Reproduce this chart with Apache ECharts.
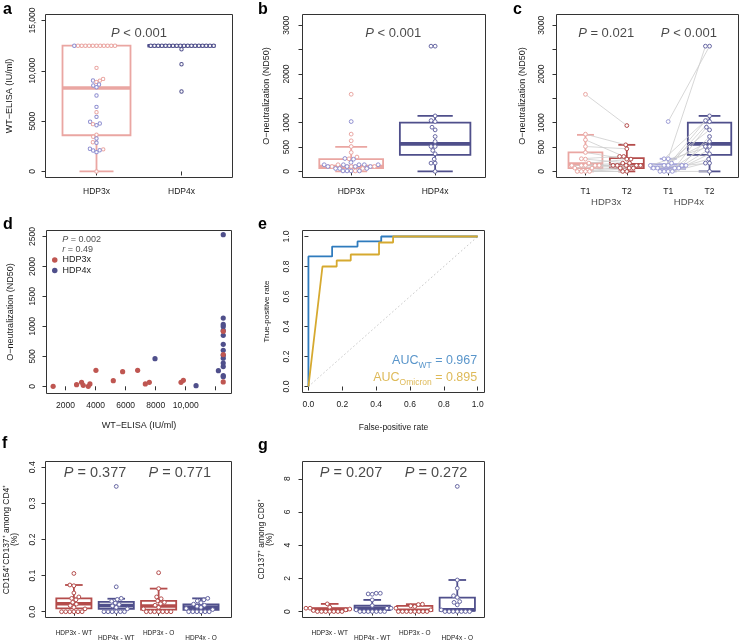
<!DOCTYPE html>
<html><head><meta charset="utf-8">
<script src="https://cdn.jsdelivr.net/npm/echarts@6/dist/echarts.min.js"></script>
<style>html,body{margin:0;padding:0;background:#fff}#c{width:741px;height:643px}</style>
</head><body><div id="c"></div>
<script>
// ---------------- DATA ----------------
// panel a : WT-ELISA (IU/ml)
const aCats = ['HDP3x', 'HDP4x'];
const aBoxHDP3x = [0, 3600, 8300, 12500, 12500];
const aBoxHDP4x = [12500, 12500, 12500, 12500, 12500];
const aHDP3x = [12500,12500,12500,12500,12500,12500,12500,12500,12500,12500,12500,12500,
  10300,9200,9040,9030,8900,8640,8550,8370, 7550,6420,5890,5430, 4940,4770,4700,4600,
  3650,3450,3280, 2910,2850,2250,2200,2110,2080,1920,0];
const aHDP3xSub = [0,0,0,0,0,0,0,0,0,0,0,1, 0,0,1,0,0,1,1,1, 1,1,0,1, 1,1,0,1, 0,0,1, 0,1,1,0,1,1,1,0];
const aHDP4x = [12500,12500,12500,12500,12500,12500,12500,12500,12500,12500,12500,12500,12500,12500,12500,12500,12500,12500,12150,10660,7950];

// panel b : O-neutralization (ND50)
const bCats = ['HDP3x', 'HDP4x'];
const bBoxHDP3x = [0, 68, 102, 252, 505];
const bBoxHDP4x = [0, 341, 566, 1002, 1139];
const bHDP3x = [1583,1023,765,628,511,389,295,265,258,250,184,
  137,137,137,137,137,137,
  100,100,100,100,100,100,100,
  60,60,60,60,
  10,10,10,10,10];
const bHDP3xSub = [0,1,0,0,0,0,0,1,0,1,1, 1,1,0,1,1,1, 0,1,1,0,1,1,0, 1,0,1,1, 1,1,0,1,1];
const bHDP4x = [2570,2570,1139,1043,1023,907,852,716,614,511,511,430,361,252,170,170,0];

// panel c : paired T1 / T2
const cCats = ['T1', 'T2', 'T1', 'T2'];
const cGroups = ['HDP3x', 'HDP4x'];
const cBoxHDP3xT1 = [0, 68, 150, 389, 750];
const cBoxHDP3xT2 = [0, 68, 136, 273, 545];
const cBoxHDP4xT1 = [0, 55, 82, 150, 259];
const cBoxHDP4xT2 = [0, 341, 566, 1002, 1139];
const cHDP3xT1 = [1582,764,648,511,389,260,252,170,123,123,123,123,123,68,68,0,0,0,0];
const cHDP3xT2 = [941,545,307,464,252,307,170,252,123,170,68,123,123,68,123,0,123,68,0];
const cHDP4xT1 = [1023,259,123,259,170,68,123,123,68,123,0,68,123,0,68,0,0];
const cHDP4xT2 = [2570,2570,1139,1043,1023,907,852,716,614,511,511,430,361,252,170,170,0];

// panel d : WT-ELISA vs O-neutralization
const dX3 = [1173,2733,3067,3178,3511,3622,4022,5178,5800,6800,7311,7578,9689,9844,12500,12500,12500];
const dY3 = [0,28,67,17,0,39,267,94,244,267,39,67,67,100,917,530,73];
const dX4 = [7956,10689,12178,12500,12500,12500,12500,12500,12500,12500,12500,12500,12500,12500,12500,12500,12500];
const dY4 = [461,11,261,2530,1139,1033,1000,933,850,700,600,517,470,389,330,178,160];

// panel e : ROC
const eWtFpr = [0, 0, 0.14, 0.14, 0.29, 0.29, 0.43, 0.43, 1];
const eWtTpr = [0, 0.867, 0.867, 0.933, 0.933, 0.967, 0.967, 1, 1];
const eOmFpr = [0, 0.083, 0.167, 0.167, 0.25, 0.25, 0.417, 0.417, 0.5, 0.5, 1];
const eOmTpr = [0, 0.8, 0.8, 0.84, 0.84, 0.88, 0.88, 0.96, 0.96, 1, 1];

// panel f : CD154+CD137+ among CD4+ (%)
const fgCats = ['HDP3x - WT', 'HDP4x - WT', 'HDP3x - O', 'HDP4x - O'];
const fBox = [[0,0.009,0.022,0.037,0.074],[0,0.008,0.017,0.027,0.036],[0,0.006,0.016,0.030,0.064],[0,0.005,0.012,0.020,0.037]];
const fHDP3xWT = [0.106,0.074,0.072,0.052,0.041,0.037,0.033,0.026,0.021,0.017,0.012,0.008,0,0,0,0,0,0];
const fHDP4xWT = [0.347,0.069,0.037,0.034,0.029,0.024,0.020,0.016,0.012,0.008,0,0,0,0,0,0];
const fHDP3xO = [0.108,0.064,0.041,0.036,0.030,0.026,0.022,0.018,0.012,0.008,0,0,0,0,0,0,0];
const fHDP4xO = [0.037,0.033,0.030,0.025,0.021,0.018,0.015,0.012,0.009,0.006,0,0,0,0,0,0];

// panel g : CD137+ among CD8+ (%)
const gBox = [[0,0.04,0.12,0.2,0.46],[0,0.08,0.2,0.36,0.7],[0,0.04,0.08,0.34,0.44],[0,0.05,0.1,0.84,1.9]];
const gHDP3xWT = [0.46,0.26,0.2,0.2,0.15,0.1,0.06,0,0,0,0,0,0,0];
const gHDP4xWT = [1.1,1.1,1.06,1.04,0.7,0.36,0.2,0.2,0.1,0,0,0,0,0,0,0];
const gHDP3xO = [0.44,0.42,0.34,0.3,0.2,0.1,0,0,0,0,0,0,0,0];
const gHDP4xO = [7.54,1.9,1.4,0.95,0.85,0.6,0.55,0.4,0.1,0,0,0,0,0,0,0];

// P-value annotations
const pA = ['< 0.001'];
const pB = ['< 0.001'];
const pC = ['= 0.021', '< 0.001'];
const pF = ['= 0.377', '= 0.771'];
const pG = ['= 0.207', '= 0.272'];
const dStats = ['= 0.002', '= 0.49'];
const aucWT = '0.967', aucOm = '0.895';

// ---------------- STYLE / LAYOUT ----------------
const FONT = '"Liberation Sans", Arial, Helvetica, sans-serif';
const C = {pink:'#eaa6a2', lav:'#a6a6da', pur:'#4f4f8b', pur2:'#6767a3', red:'#b44c4b', dred:'#bf5651',
  blue:'#2f7bbd', gold:'#d6a92f', ax:'#333', txt:'#1a1a1a'};
const P = {
  a:{left:45.5, top:14.5, width:187, height:163, x:[0.4,2.6], y:[-600,15600], ym:8},
  b:{left:302.5, top:14.5, width:183, height:163, x:[0.42,2.6], y:[-125,3220], ym:11},
  c:{left:556.5, top:14.5, width:182, height:163, x:[0.3,4.7], y:[-125,3220], ym:10},
  d:{left:46.5, top:230.5, width:185, height:163, x:[730,13050], y:[-120,2600], ym:9},
  e:{left:302.5, top:230.5, width:182, height:162, x:[-0.035,1.04], y:[-0.04,1.04], ym:11},
  f:{left:45.5, top:461.5, width:186, height:156, x:[0.33,4.72], y:[-0.016,0.416], ym:8},
  g:{left:302.5, top:461.5, width:182, height:156, x:[0.36,4.64], y:[-0.36,9.04], ym:10}
};

// beeswarm layout (pixel space) -> x offsets in data units
function swarm(vals, p, d) {
  const sx = p.width / (p.x[1] - p.x[0]), sy = p.height / (p.y[1] - p.y[0]);
  const idx = vals.map((v, i) => i).sort((a, b) => vals[a] - vals[b]);
  const placed = [], off = new Array(vals.length);
  for (const i of idx) {
    const y = vals[i] * sy;
    const near = placed.filter(q => Math.abs(q.y - y) < d);
    const cands = [0];
    near.forEach(q => { const dx = Math.sqrt(d * d - (q.y - y) * (q.y - y)); cands.push(q.x + dx, q.x - dx); });
    cands.sort((u, v) => Math.abs(u) - Math.abs(v) || u - v);
    let x = 0;
    for (const cnd of cands) {
      if (near.every(q => (q.x - cnd) * (q.x - cnd) + (q.y - y) * (q.y - y) >= d * d - 0.01)) { x = cnd; break; }
    }
    placed.push({x, y}); off[i] = x / sx;
  }
  return off;
}

const grids = [], xAxes = [], yAxes = [], series = [];
function panel(key, xt, xl, xf, yt, yl, yf, extra) {
  const p = P[key], gi = grids.length;
  extra = extra || {};
  grids.push({left:p.left, top:p.top, width:p.width, height:p.height, show:true, borderColor:C.ax, borderWidth:1, backgroundColor:'transparent'});
  xAxes.push(Object.assign({gridIndex:gi, type:'value', min:p.x[0], max:p.x[1], axisLine:{show:false}, splitLine:{show:false},
    axisTick:{show:true, length:4, customValues:xt, lineStyle:{color:C.ax, width:1}},
    axisLabel:{customValues:xl, formatter:xf, fontSize:8.5, color:C.txt, margin:10, fontFamily:FONT, hideOverlap:false}}, extra.x || {}));
  yAxes.push(Object.assign({gridIndex:gi, type:'value', min:p.y[0], max:p.y[1], axisLine:{show:false}, splitLine:{show:false},
    axisTick:{show:true, length:4, customValues:yt, lineStyle:{color:C.ax, width:1}},
    axisLabel:{customValues:yl, formatter:yf, fontSize:8.5, color:C.txt, margin:p.ym, rotate:90, fontFamily:FONT, hideOverlap:false}}, extra.y || {}));
  return gi;
}
function yName(t, gap, fs, lh) {
  return {name:t, nameLocation:'middle', nameGap:gap, nameRotate:90, nameTextStyle:{fontSize:fs || 9, color:C.txt, fontFamily:FONT, lineHeight:lh}};
}
function xName(t, gap, fs) {
  return {name:t, nameLocation:'middle', nameGap:gap, nameTextStyle:{fontSize:fs || 9, color:C.txt, fontFamily:FONT}};
}

function boxItem(params, api) {
  const cx = api.value(0), lo = api.value(1), q1 = api.value(2), md = api.value(3), q3 = api.value(4), hi = api.value(5), w = api.value(6);
  const lw = api.value(7);
  const col = api.visual('color');
  const half = api.size([w, 0])[0] / 2;
  const pLo = api.coord([cx, lo]), pQ1 = api.coord([cx, q1]), pMd = api.coord([cx, md]), pQ3 = api.coord([cx, q3]), pHi = api.coord([cx, hi]);
  const x = pMd[0];
  const st = {stroke:col, lineWidth:lw, fill:null};
  const ch = [
    {type:'rect', shape:{x:x - half, y:pQ3[1], width:2 * half, height:pQ1[1] - pQ3[1]}, style:{stroke:col, fill:'#fff', lineWidth:lw}},
    {type:'line', shape:{x1:x, y1:pQ3[1], x2:x, y2:pHi[1]}, style:st},
    {type:'line', shape:{x1:x, y1:pQ1[1], x2:x, y2:pLo[1]}, style:st},
    {type:'line', shape:{x1:x - half / 2, y1:pHi[1], x2:x + half / 2, y2:pHi[1]}, style:st},
    {type:'line', shape:{x1:x - half / 2, y1:pLo[1], x2:x + half / 2, y2:pLo[1]}, style:st},
    {type:'line', shape:{x1:x - half, y1:pMd[1], x2:x + half, y2:pMd[1]}, style:{stroke:col, lineWidth:3.6}}
  ];
  return {type:'group', children:ch};
}
function boxSeries(gi, items) {
  series.push({type:'custom', name:'box' + gi, xAxisIndex:gi, yAxisIndex:gi, renderItem:boxItem, clip:false, silent:true,
    encode:{x:0, y:[1, 2, 3, 4, 5]},
    data:items.map(it => ({value:[it.cat].concat(it.s, [it.w, it.lw]), itemStyle:{color:it.color}}))});
}
const GAP = 0.3;
function ptSeries(gi, groups, size) {
  const data = [];
  groups.forEach(g => {
    const off = swarm(g.vals, g.p, size + GAP);
    g.vals.forEach((v, i) => data.push({value:[g.cat + off[i], v], itemStyle:{borderColor:g.colorOf(i)}}));
  });
  series.push({type:'scatter', name:'pts' + gi, xAxisIndex:gi, yAxisIndex:gi, clip:false, silent:true, symbol:'circle', symbolSize:size,
    itemStyle:{color:'#fff', borderWidth:1, opacity:1}, data});
}
function annSeries(gi, items, fs, pos) {
  series.push({type:'scatter', name:'ann' + gi, xAxisIndex:gi, yAxisIndex:gi, clip:false, silent:true, symbolSize:1,
    itemStyle:{color:'rgba(0,0,0,0)'},
    label:{show:true, position:pos || 'inside', distance:0, formatter:q => q.name, fontSize:fs, color:C.txt, fontFamily:FONT,
      rich:{i:{fontStyle:'italic', fontSize:fs, fontFamily:FONT, color:C.txt}}},
    data:items.map(it => ({name:it.t, value:it.v, label:it.label || {}}))});
}
const ital = (s, rest) => '{i|' + s + '} ' + rest;

// ---------- panel a ----------
let gi = panel('a', [1, 2], [1, 2], v => aCats[Math.round(v) - 1], [0, 5000, 10000, 15000], [0, 5000, 10000, 15000],
  v => v >= 10000 ? v.toLocaleString('en-US') : String(v), {y:yName('WT\u2212ELISA (IU/ml)', 31)});
boxSeries(gi, [{cat:1, s:aBoxHDP3x, w:0.8, lw:1.8, color:C.pink}, {cat:2, s:aBoxHDP4x, w:0.8, lw:1.8, color:C.pur}]);
ptSeries(gi, [{vals:aHDP3x, cat:1, p:P.a, colorOf:i => aHDP3xSub[i] ? '#8e8ed0' : C.pink},
  {vals:aHDP4x, cat:2, p:P.a, colorOf:() => C.pur}], 3.4);
annSeries(gi, [{t:ital('P', pA[0]), v:[1.5, 13750]}], 13);

// ---------- panel b ----------
const bTicks = [0, 500, 1000, 1500, 2000, 2500, 3000];
gi = panel('b', [1, 2], [1, 2], v => bCats[Math.round(v) - 1], bTicks, [0, 500, 1000, 2000, 3000], v => String(v),
  {y:yName('O\u2212neutralization (ND50)', 31)});
boxSeries(gi, [{cat:1, s:bBoxHDP3x, w:0.76, lw:1.8, color:C.pink}, {cat:2, s:bBoxHDP4x, w:0.84, lw:1.8, color:C.pur}]);
ptSeries(gi, [{vals:bHDP3x, cat:1, p:P.b, colorOf:i => bHDP3xSub[i] ? '#8e8ed0' : C.pink},
  {vals:bHDP4x, cat:2, p:P.b, colorOf:() => C.pur2}], 3.8);
annSeries(gi, [{t:ital('P', pB[0]), v:[1.5, 2837]}], 13);

// ---------- panel c ----------
gi = panel('c', [1, 2, 3, 4], [1, 2, 3, 4], v => cCats[Math.round(v) - 1], bTicks, [0, 500, 1000, 2000, 3000], v => String(v),
  {y:yName('O\u2212neutralization (ND50)', 29)});
boxSeries(gi, [{cat:1, s:cBoxHDP3xT1, w:0.82, lw:1.8, color:C.pink}, {cat:2, s:cBoxHDP3xT2, w:0.82, lw:1.8, color:C.red},
  {cat:3, s:cBoxHDP4xT1, w:0.82, lw:1.8, color:C.lav}, {cat:4, s:cBoxHDP4xT2, w:1.05, lw:1.8, color:C.pur}]);
{
  const sz = 3.8;
  const o1 = swarm(cHDP3xT1, P.c, sz + GAP), o2 = swarm(cHDP3xT2, P.c, sz + GAP);
  const o3 = swarm(cHDP4xT1, P.c, sz + GAP), o4 = swarm(cHDP4xT2, P.c, sz + GAP);
  const segs = cHDP3xT1.map((v, i) => [1 + o1[i], v, 2 + o2[i], cHDP3xT2[i]])
    .concat(cHDP4xT1.map((v, i) => [3 + o3[i], v, 4 + o4[i], cHDP4xT2[i]]));
  series.push({type:'custom', name:'pairs', xAxisIndex:gi, yAxisIndex:gi, clip:false, silent:true, encode:{x:[0, 2], y:[1, 3]},
    renderItem:(params, api) => {
      const p1 = api.coord([api.value(0), api.value(1)]), p2 = api.coord([api.value(2), api.value(3)]);
      return {type:'line', shape:{x1:p1[0], y1:p1[1], x2:p2[0], y2:p2[1]}, style:{stroke:'#cdcdcd', lineWidth:0.8}};
    }, data:segs});
  ptSeries(gi, [{vals:cHDP3xT1, cat:1, p:P.c, colorOf:() => C.pink}, {vals:cHDP3xT2, cat:2, p:P.c, colorOf:() => C.red},
    {vals:cHDP4xT1, cat:3, p:P.c, colorOf:() => '#9d9dd6'}, {vals:cHDP4xT2, cat:4, p:P.c, colorOf:() => C.pur2}], sz);
}
annSeries(gi, [{t:ital('P', pC[0]), v:[1.5, 2837]}, {t:ital('P', pC[1]), v:[3.5, 2837]}], 13);
annSeries(gi, [{t:cGroups[0], v:[1.5, -642]}, {t:cGroups[1], v:[3.5, -642]}], 9.5);

// ---------- panel d ----------
gi = panel('d', [2000, 4000, 6000, 8000, 10000, 12000], [2000, 4000, 6000, 8000, 10000],
  v => v >= 10000 ? v.toLocaleString('en-US') : String(v), [0, 500, 1000, 1500, 2000, 2500], [0, 500, 1000, 1500, 2000, 2500], v => String(v),
  {y:yName('O\u2212neutralization (ND50)', 31), x:xName('WT\u2212ELISA (IU/ml)', 28)});
xAxes[gi].axisLabel.margin = 8;
series.push({type:'scatter', name:'HDP4x', xAxisIndex:gi, yAxisIndex:gi, clip:false, symbolSize:5.2, itemStyle:{color:C.pur, opacity:1},
  data:dX4.map((x, i) => [x, dY4[i]])});
series.push({type:'scatter', name:'HDP3x', xAxisIndex:gi, yAxisIndex:gi, clip:false, symbolSize:5.2, itemStyle:{color:C.dred, opacity:1},
  data:dX3.map((x, i) => [x, dY3[i]])});
annSeries(gi, [{t:ital('P', dStats[0]), v:[1739, 2442]}, {t:ital('r', dStats[1]), v:[1739, 2276]}], 9, 'right');

// ---------- panel e ----------
const eT = [0, 0.2, 0.4, 0.6, 0.8, 1];
gi = panel('e', eT, eT, v => v.toFixed(1), eT, eT, v => v.toFixed(1),
  {y:yName('True-positive rate', 32, 8), x:xName('False-positive rate', 31, 8.5)});
xAxes[gi].axisLabel.margin = 8;
series.push({type:'line', name:'diag', xAxisIndex:gi, yAxisIndex:gi, showSymbol:false, silent:true,
  lineStyle:{color:'#c4c4c4', width:1, type:[1.5, 2.5]}, data:[[0, 0], [1, 1]]});
series.push({type:'line', name:'WT', xAxisIndex:gi, yAxisIndex:gi, showSymbol:false, silent:true,
  lineStyle:{color:C.blue, width:1.8}, data:eWtFpr.map((x, i) => [x, eWtTpr[i]])});
series.push({type:'line', name:'Omicron', xAxisIndex:gi, yAxisIndex:gi, showSymbol:false, silent:true,
  lineStyle:{color:C.gold, width:1.8}, data:eOmFpr.map((x, i) => [x, eOmTpr[i]])});
{
  const mk = (col, sub, val) => ({
    t:'{m|AUC}{s|' + sub + '}{m| = ' + val + '}',
    label:{rich:{m:{fontSize:12.5, color:col, fontFamily:FONT, verticalAlign:'top', padding:[0, 0, 3, 0]},
      s:{fontSize:8.5, color:col, fontFamily:FONT, verticalAlign:'bottom'}}}
  });
  const w = mk(C.blue, 'WT', aucWT), o = mk(C.gold, 'Omicron', aucOm);
  annSeries(gi, [{t:w.t, v:[1.0, 0.16], label:w.label}, {t:o.t, v:[1.0, 0.052], label:o.label}], 12.5, 'left');
}

// ---------- panels f & g ----------
const fgFormatter = v => { const i = Math.round(v) - 1; return (i % 2 === 0 ? '{u|' : '{l|') + fgCats[i] + '}'; };
const fgRich = {u:{fontSize:6.5, fontFamily:FONT, color:C.txt, padding:[0, 0, 5, 0]}, l:{fontSize:6.5, fontFamily:FONT, color:C.txt, padding:[5, 0, 0, 0]}};
function fgPanel(key, box, groups, yt, yf, nm, gap) {
  const g = panel(key, [1, 2, 3, 4], [1, 2, 3, 4], fgFormatter, yt, yt, yf, {y:yName(nm, gap, 8.5, 8)});
  xAxes[g].axisLabel.rich = fgRich; xAxes[g].axisLabel.margin = 12;
  const cols = [C.red, C.pur, C.red, C.pur];
  boxSeries(g, box.map((s, i) => ({cat:i + 1, s, w:0.83, lw:1.8, color:cols[i]})));
  ptSeries(g, groups.map((vals, i) => ({vals, cat:i + 1, p:P[key], colorOf:() => i % 2 ? C.pur2 : C.red})), 3.8);
  return g;
}
gi = fgPanel('f', fBox, [fHDP3xWT, fHDP4xWT, fHDP3xO, fHDP4xO], [0, 0.1, 0.2, 0.3, 0.4], v => v.toFixed(1),
  'CD154\u207ACD137\u207A among CD4\u207A\n(%)', 27);
annSeries(gi, [{t:ital('P', pF[0]), v:[1.5, 0.383]}, {t:ital('P', pF[1]), v:[3.5, 0.383]}], 14.5);
gi = fgPanel('g', gBox, [gHDP3xWT, gHDP4xWT, gHDP3xO, gHDP4xO], [0, 2, 4, 6, 8], v => String(v),
  'CD137\u207A among CD8\u207A\n(%)', 29);
annSeries(gi, [{t:ital('P', pG[0]), v:[1.5, 8.32]}, {t:ital('P', pG[1]), v:[3.5, 8.32]}], 14.5);

// ---------- panel letters ----------
const letters = [['a', 3, 9.5], ['b', 258, 9.5], ['c', 513, 9.5], ['d', 3, 224.5], ['e', 258, 224.5], ['f', 2, 443.5], ['g', 258, 446]];
const graphic = letters.map(l => ({type:'text', style:{text:l[0], x:l[1], y:l[2], verticalAlign:'middle',
  font:'bold 16px ' + FONT, fill:'#000'}}));

const chart = echarts.init(document.getElementById('c'), null, {renderer:'canvas'});
chart.setOption({
  animation:false, backgroundColor:'#fff',
  textStyle:{fontFamily:FONT},
  grid:grids, xAxis:xAxes, yAxis:yAxes, series,
  legend:{data:['HDP3x', 'HDP4x'], orient:'vertical', left:52, top:255.5, itemWidth:5.5, itemHeight:5.5, itemGap:1.5, icon:'circle',
    padding:0, selectedMode:false, textStyle:{fontSize:9, fontFamily:FONT, color:C.txt}},
  graphic
});
</script></body></html>
